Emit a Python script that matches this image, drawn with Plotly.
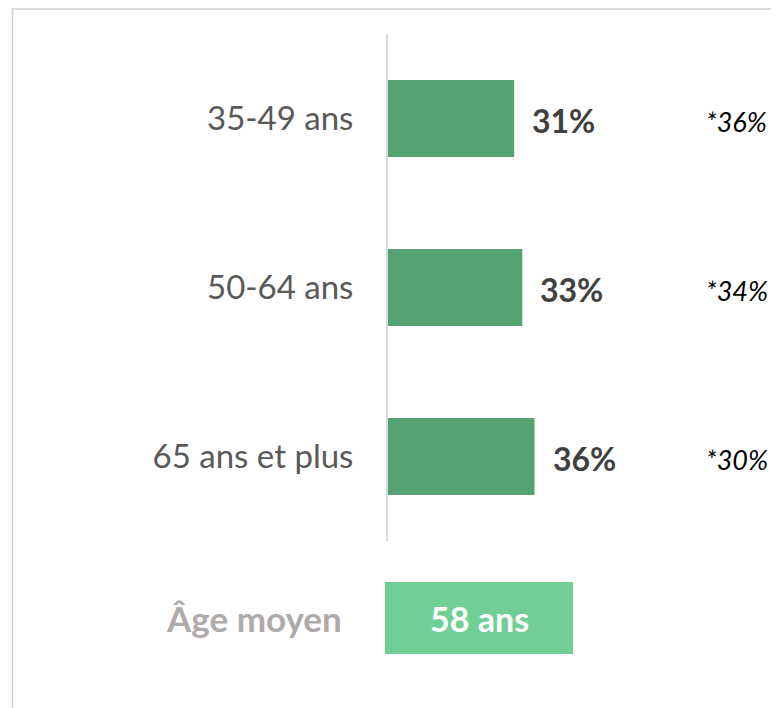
import plotly.graph_objects as go

categories = ["35-49 ans", "50-64 ans", "65 ans et plus"]
values = [31, 33, 36]
value_labels = ["31%", "33%", "36%"]
compare_labels = ["*36%", "*34%", "*30%"]
age_label = "Âge moyen"
age_value = "58 ans"

W, H = 779, 708
OFF = 8  # page body margin offset
L, R, T, B = 380, 0, 26, 175
PW, PH = W - L - R, H - T - B
PX_PER_UNIT = 4.07
XMAX = PW / PX_PER_UNIT

def px_x(px):
    return (px - OFF - L) / PW

def px_y(py):
    return (H - B - (py - OFF)) / PH

FONT = "Lato"
BAR = "#55A373"

fig = go.Figure(go.Bar(
    x=values, y=categories, orientation="h",
    marker=dict(color=BAR, line=dict(width=0)),
    width=0.455, hoverinfo="skip",
))

annotations = []
for c, v, t in zip(categories, values, value_labels):
    annotations.append(dict(x=v, y=c, xref="x", yref="y", text=f"<b>{t}</b>",
                            showarrow=False, xanchor="left", xshift=16, yshift=-2,
                            font=dict(family=FONT, size=32, color="#404040")))
for c, t in zip(categories, compare_labels):
    annotations.append(dict(x=px_x(704), y=c, xref="paper", yref="y", text=f"<i>{t}</i>",
                            showarrow=False, xanchor="left", yshift=-3,
                            font=dict(family=FONT, size=27, color="#000000")))

annotations.append(dict(x=px_x(344), y=px_y(618), xref="paper", yref="paper",
                        text=f"<b>{age_label}</b>", showarrow=False,
                        xanchor="right", yanchor="middle",
                        font=dict(family=FONT, size=35, color="#AEAAAA")))
annotations.append(dict(x=px_x(479), y=px_y(618), xref="paper", yref="paper",
                        text=f"<b>{age_value}</b>", showarrow=False,
                        xanchor="center", yanchor="middle",
                        font=dict(family=FONT, size=34, color="#FFFFFF")))

shapes = [
    dict(type="rect", xref="paper", yref="paper", layer="below",
         x0=px_x(12.5), x1=px_x(W + 40), y0=px_y(H + 40), y1=px_y(OFF + 1),
         line=dict(color="#D0D0D0", width=1.5), fillcolor="rgba(0,0,0,0)"),
    dict(type="rect", xref="paper", yref="paper",
         x0=px_x(385), x1=px_x(573), y0=px_y(654), y1=px_y(582),
         line=dict(width=0), fillcolor="#71CF95"),
]

fig.update_layout(
    width=W, height=H,
    margin=dict(l=L, r=R, t=T, b=B),
    paper_bgcolor="white", plot_bgcolor="white",
    showlegend=False,
    xaxis=dict(range=[0, XMAX], visible=False, fixedrange=True),
    yaxis=dict(range=[2.5, -0.5], autorange=False, showgrid=False, zeroline=False,
               showline=True, linecolor="#D9D9D9", linewidth=2,
               ticks="", ticklabelstandoff=26,
               tickfont=dict(family=FONT, size=33, color="#595959")),
    annotations=annotations,
    shapes=shapes,
)

fig.write_html("out.html")
